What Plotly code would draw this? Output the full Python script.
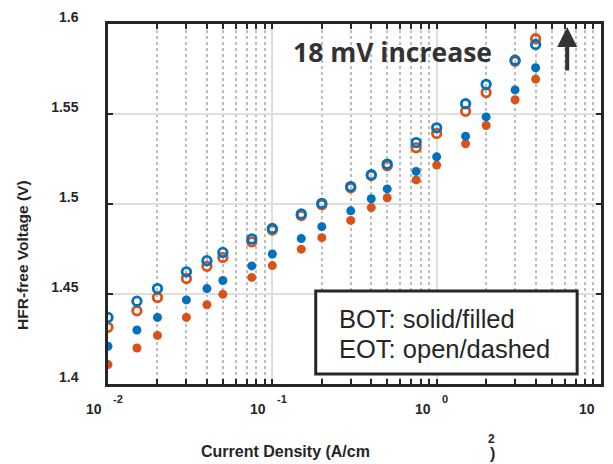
import math
import plotly.graph_objects as go

# ---- data ----
current_density = [0.01, 0.015, 0.02, 0.03, 0.04, 0.05, 0.075, 0.1, 0.15, 0.2,
                   0.3, 0.4, 0.5, 0.75, 1, 1.5, 2, 3, 4]
eot_blue = [1.437, 1.446, 1.453, 1.4623, 1.4685, 1.4731, 1.4806, 1.4864, 1.4945, 1.5004,
            1.5097, 1.5163, 1.5222, 1.5341, 1.5423, 1.5557, 1.5665, 1.5799, 1.5886]
eot_orange = [1.4315, 1.4407, 1.448, 1.4586, 1.4654, 1.4703, 1.479, 1.4855, 1.4936, 1.4996,
              1.509, 1.5158, 1.5212, 1.5313, 1.5392, 1.5515, 1.5619, 1.5793, 1.5918]
bot_blue = [1.421, 1.430, 1.437, 1.4467, 1.453, 1.4575, 1.4656, 1.4722, 1.4808, 1.4874,
            1.4962, 1.5029, 1.5084, 1.5181, 1.5262, 1.5377, 1.5484, 1.5634, 1.5757]
bot_orange = [1.4108, 1.420, 1.427, 1.437, 1.444, 1.4498, 1.4592, 1.4658, 1.4749, 1.4813,
              1.4909, 1.498, 1.5035, 1.5134, 1.5216, 1.5335, 1.5436, 1.5579, 1.5694]

x_tick_vals = [0.01, 0.1, 1, 10]
x_tick_base = ["10", "10", "10", "10"]
x_tick_exp = ["-2", "-1", "0", ""]
y_tick_vals = [1.4, 1.45, 1.5, 1.55, 1.6]
y_tick_text = ["1.4", "1.45", "1.5", "1.55", "1.6"]

BLUE = "#0072BD"
ORANGE = "#D95319"
DARK = "#262626"
FONT = "Liberation Sans"

fig = go.Figure()

fig.add_trace(go.Scatter(x=current_density, y=bot_orange, mode="markers", name="BOT 2",
                         marker=dict(symbol="circle", size=9, color=ORANGE, line=dict(width=0))))
fig.add_trace(go.Scatter(x=current_density, y=bot_blue, mode="markers", name="BOT 1",
                         marker=dict(symbol="circle", size=9, color=BLUE, line=dict(width=0))))
fig.add_trace(go.Scatter(x=current_density, y=eot_orange, mode="markers", name="EOT 2",
                         marker=dict(symbol="circle-open", size=8.5, color=ORANGE,
                                     line=dict(width=2.8, color=ORANGE))))
fig.add_trace(go.Scatter(x=current_density, y=eot_blue, mode="markers", name="EOT 1",
                         marker=dict(symbol="circle-open", size=8.5, color=BLUE,
                                     line=dict(width=2.8, color=BLUE))))

annotations = []
for v, b, e in zip(x_tick_vals, x_tick_base, x_tick_exp):
    lv = math.log10(v)
    annotations.append(dict(x=lv, xref="x", y=0, yref="paper", text=b, showarrow=False,
                            xanchor="right", yanchor="middle", xshift=-4, yshift=-25,
                            font=dict(family=FONT, size=14, color=DARK, weight="bold")))
    if e:
        annotations.append(dict(x=lv, xref="x", y=0, yref="paper", text=e, showarrow=False,
                                xanchor="left", yanchor="middle", xshift=3, yshift=-15,
                                font=dict(family=FONT, size=11, color=DARK, weight="bold")))

# axis titles
annotations.append(dict(x=(200 - 108) / 496, xref="paper", y=(384 - 452) / 364, yref="paper",
                        text="Current Density (A/cm", showarrow=False, xanchor="left", yanchor="middle",
                        font=dict(family=FONT, size=16, color=DARK, weight="bold")))
annotations.append(dict(x=(494 - 108) / 496, xref="paper", y=(384 - 440) / 364, yref="paper",
                        text="2", showarrow=False, xanchor="center", yanchor="middle",
                        font=dict(family=FONT, size=12, color=DARK, weight="bold")))
annotations.append(dict(x=(495 - 108) / 496, xref="paper", y=(384 - 454) / 364, yref="paper",
                        text=")", showarrow=False, xanchor="center", yanchor="middle",
                        font=dict(family=FONT, size=16, color=DARK, weight="bold")))
annotations.append(dict(x=(22 - 108) / 496, xref="paper", y=(384 - 254) / 364, yref="paper",
                        text="HFR-free Voltage (V)", showarrow=False, textangle=-90,
                        xanchor="center", yanchor="middle",
                        font=dict(family=FONT, size=15.5, color=DARK, weight="bold")))

# in-plot texts
annotations.append(dict(x=(292 - 108) / 496, xref="paper", y=(384 - 48) / 364, yref="paper",
                        text="18 mV increase", showarrow=False, xanchor="left", yanchor="middle",
                        font=dict(family="Open Sans", size=26.5, color="#333333", weight="bold")))
annotations.append(dict(x=(570 - 108) / 496, xref="paper", y=(384 - 23) / 364, yref="paper",
                        text="", showarrow=True, ax=0, ay=45, arrowhead=2, arrowsize=1,
                        arrowwidth=4, arrowcolor="#333333", standoff=0))
annotations.append(dict(x=(338 - 108) / 496, xref="paper", y=(384 - 318) / 364, yref="paper",
                        text="BOT: solid/filled", showarrow=False, xanchor="left", yanchor="middle",
                        font=dict(family=FONT, size=25.5, color=DARK)))
annotations.append(dict(x=(338 - 108) / 496, xref="paper", y=(384 - 349) / 364, yref="paper",
                        text="EOT: open/dashed", showarrow=False, xanchor="left", yanchor="middle",
                        font=dict(family=FONT, size=25.5, color=DARK)))

shapes = [dict(type="rect", xref="paper", yref="paper",
               x0=(317 - 108) / 496, x1=(580 - 108) / 496,
               y0=(384 - 374) / 364, y1=(384 - 290) / 364,
               line=dict(color=DARK, width=3), fillcolor="white", layer="above")]

fig.update_layout(
    width=613, height=464,
    margin=dict(l=108, r=9, t=20, b=80, pad=0),
    paper_bgcolor="white", plot_bgcolor="white",
    showlegend=False,
    annotations=annotations,
    shapes=shapes,
    xaxis=dict(type="log", range=[-2, 1], tickvals=x_tick_vals, showticklabels=False,
               ticks="inside", ticklen=5, tickwidth=1.5, tickcolor=DARK,
               showline=True, linecolor=DARK, linewidth=2.5, mirror="allticks",
               showgrid=True, gridcolor="#dedede", gridwidth=2,
               minor=dict(tickvals=[v * m for v in [0.01, 0.1, 1] for m in range(2, 10)],
                          ticks="inside", ticklen=5, tickwidth=1.5, tickcolor=DARK,
                          showgrid=True, gridcolor="#bdbdbd", gridwidth=1.6, griddash="dot"),
               zeroline=False),
    yaxis=dict(range=[1.4, 1.6], tickvals=y_tick_vals, ticktext=y_tick_text,
               ticks="inside", ticklen=5, tickwidth=1.5, tickcolor=DARK,
               showline=True, linecolor=DARK, linewidth=2.5, mirror="allticks",
               showgrid=True, gridcolor="#dedede", gridwidth=2, zeroline=False,
               ticklabelstandoff=24, ticklabelshift=-7,
               tickfont=dict(family=FONT, size=14, color=DARK, weight="bold")),
)

fig.write_html("out.html")
